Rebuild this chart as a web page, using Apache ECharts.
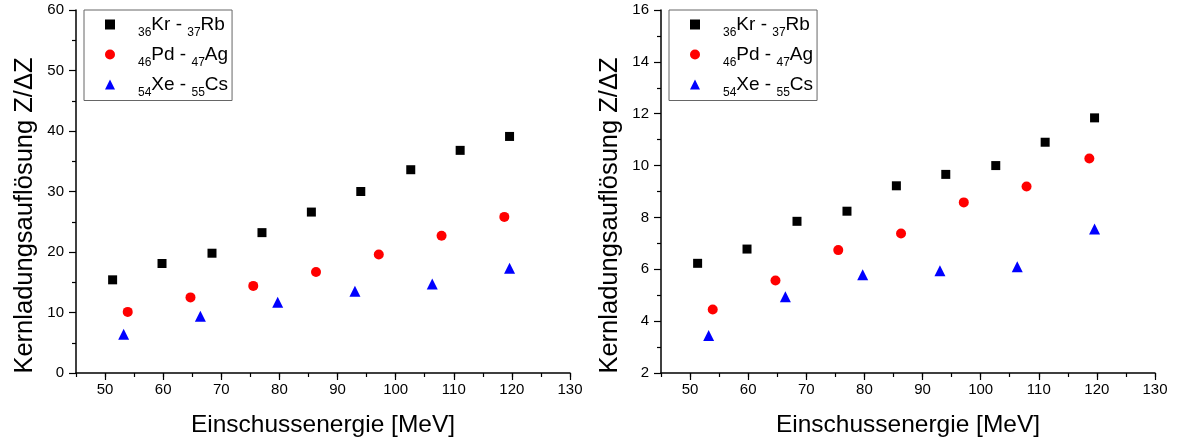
<!DOCTYPE html>
<html><head><meta charset="utf-8">
<script src="https://cdn.jsdelivr.net/npm/echarts@6/dist/echarts.min.js"></script>
<style>html,body{margin:0;padding:0;background:#fff}#c{width:1178px;height:443px}</style>
</head><body><div id="c"></div>
<script>
// Data
const krEnergy = [51.3, 59.8, 68.4, 77.0, 85.5, 94.0, 102.6, 111.1, 119.6];
const pdEnergy = [53.9, 64.7, 75.5, 86.3, 97.1, 107.9, 118.7];
const xeEnergy = [53.2, 66.4, 79.7, 93.0, 106.3, 119.6];

const krLeft = [15.4, 18.1, 19.8, 23.2, 26.6, 30.0, 33.6, 36.8, 39.1];
const pdLeft = [10.1, 12.5, 14.4, 16.7, 19.6, 22.7, 25.8];
const xeLeft = [6.4, 9.4, 11.7, 13.5, 14.7, 17.3];

const krRight = [6.23, 6.78, 7.85, 8.24, 9.22, 9.66, 10.0, 10.9, 11.84];
const pdRight = [4.45, 5.57, 6.74, 7.38, 8.58, 9.19, 10.27];
const xeRight = [3.45, 4.94, 5.79, 5.94, 6.1, 7.55];

const seriesNames = ['Kr-Rb', 'Pd-Ag', 'Xe-Cs'];
const legendLabels = {
  'Kr-Rb': '{s|36}{m|Kr - }{s|37}{m|Rb}',
  'Pd-Ag': '{s|46}{m|Pd - }{s|47}{m|Ag}',
  'Xe-Cs': '{s|54}{m|Xe - }{s|55}{m|Cs}'
};
const majorXTicks = [50, 60, 70, 80, 90, 100, 110, 120, 130];
const xTitle = 'Einschussenergie [MeV]';
const yTitle = 'Kernladungsauflösung Z/ΔZ';

const FONT = '"Liberation Sans", Arial, sans-serif';
const pair = (xs, ys) => xs.map((x, i) => [x, ys[i]]);

function xAxesFor(grid) {
  return [
    {
      type: 'value', gridIndex: grid, position: 'bottom', min: 45, max: 130, interval: 5,
      axisLine: { show: true, onZero: false, lineStyle: { color: '#000', width: 1.5 } },
      axisTick: { show: true, length: 4, lineStyle: { color: '#000', width: 1.2 } },
      axisLabel: { color: '#000', fontSize: 15, fontFamily: FONT, margin: 9,
        formatter: v => (v % 10 === 0 ? String(v) : '') },
      splitLine: { show: false },
      name: xTitle, nameLocation: 'middle', nameGap: 40,
      nameTextStyle: { color: '#000', fontSize: 24.5, fontFamily: FONT }
    },
    {
      type: 'value', gridIndex: grid, position: 'bottom', min: 45, max: 130, interval: 5,
      axisLine: { show: false, onZero: false },
      axisTick: { show: true, length: 7, customValues: majorXTicks, lineStyle: { color: '#000', width: 1.2 } },
      axisLabel: { show: false },
      splitLine: { show: false }
    }
  ];
}

function yAxisFor(grid, min, max, interval) {
  return {
    type: 'value', gridIndex: grid, min: min, max: max, interval: interval,
    axisLine: { show: true, onZero: false, lineStyle: { color: '#000', width: 1.5 } },
    axisTick: { show: true, length: 7, lineStyle: { color: '#000', width: 1.2 } },
    minorTick: { show: true, splitNumber: 2, length: 4, lineStyle: { color: '#000', width: 1.2 } },
    axisLabel: { color: '#000', fontSize: 15, fontFamily: FONT, margin: 12 },
    splitLine: { show: false },
    minorSplitLine: { show: false },
    name: yTitle, nameLocation: 'middle', nameGap: 38,
    nameTextStyle: { color: '#000', fontSize: 25.5, fontFamily: FONT, padding: [0, 48, 0, 0] }
  };
}

function legendFor(left) {
  return {
    left: left, top: 10, orient: 'vertical',
    data: seriesNames,
    itemWidth: 10, itemHeight: 10, itemGap: 6.5,
    padding: [5, 4, 2, 21],
    borderColor: '#666', borderWidth: 1,
    selectedMode: false,
    formatter: name => '{p|}' + legendLabels[name],
    textStyle: {
      color: '#000', fontFamily: FONT,
      rich: {
        p: { width: 18, lineHeight: 28 },
        m: { fontSize: 19, lineHeight: 28, verticalAlign: 'middle', color: '#000', fontFamily: FONT },
        s: { fontSize: 12, lineHeight: 12, verticalAlign: 'bottom', color: '#000', fontFamily: FONT }
      }
    }
  };
}

function scatter(name, xi, yi, data, symbol, size, color) {
  return {
    type: 'scatter', name: name, xAxisIndex: xi, yAxisIndex: yi, data: data,
    symbol: symbol, symbolSize: size, itemStyle: { color: color, opacity: 1 },
    emphasis: { disabled: true }, animation: false
  };
}

const chart = echarts.init(document.getElementById('c'), null, { renderer: 'canvas' });
chart.setOption({
  backgroundColor: '#fff',
  animation: false,
  grid: [
    { left: 76, top: 10, width: 494, height: 363 },
    { left: 661, top: 10, width: 494, height: 363 }
  ],
  xAxis: [...xAxesFor(0), ...xAxesFor(1)],
  yAxis: [yAxisFor(0, 0, 60, 10), yAxisFor(1, 2, 16, 2)],
  legend: [legendFor(84), legendFor(669)],
  series: [
    scatter('Kr-Rb', 0, 0, pair(krEnergy, krLeft), 'rect', 9, '#000000'),
    scatter('Pd-Ag', 0, 0, pair(pdEnergy, pdLeft), 'circle', 10, '#ff0000'),
    scatter('Xe-Cs', 0, 0, pair(xeEnergy, xeLeft), 'triangle', 11, '#0000ff'),
    scatter('Kr-Rb', 2, 1, pair(krEnergy, krRight), 'rect', 9, '#000000'),
    scatter('Pd-Ag', 2, 1, pair(pdEnergy, pdRight), 'circle', 10, '#ff0000'),
    scatter('Xe-Cs', 2, 1, pair(xeEnergy, xeRight), 'triangle', 11, '#0000ff')
  ]
});
</script>
</body></html>
